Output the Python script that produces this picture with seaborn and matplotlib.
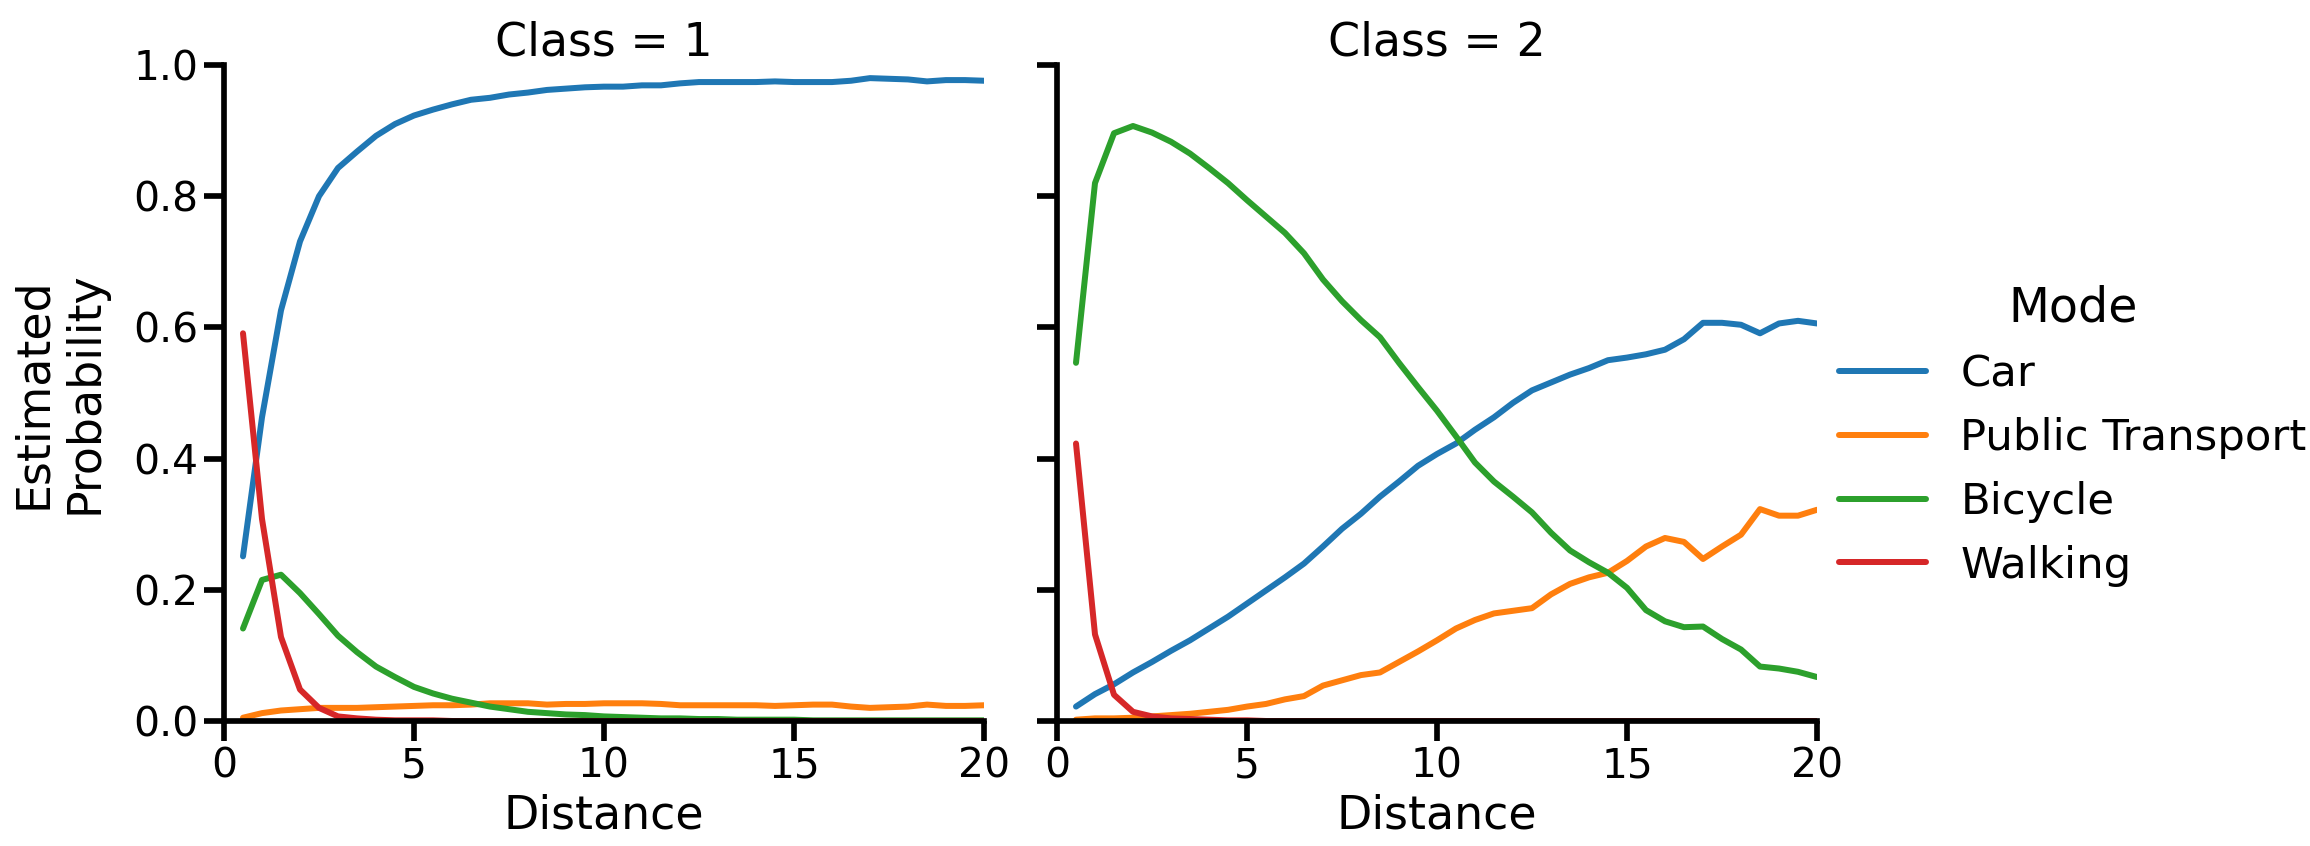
import numpy as np
import pandas as pd
import matplotlib
matplotlib.use("Agg")
import matplotlib.pyplot as plt
import seaborn as sns

distance = [0.5 * i for i in range(1, 41)]

modes = ["Car", "Public Transport", "Bicycle", "Walking"]

c1_car = [0.251, 0.463, 0.626, 0.731, 0.800, 0.843, 0.868, 0.892, 0.910, 0.923,
          0.932, 0.940, 0.947, 0.950, 0.955, 0.958, 0.962, 0.964, 0.966, 0.967,
          0.967, 0.969, 0.969, 0.972, 0.974, 0.974, 0.974, 0.974, 0.975, 0.974,
          0.974, 0.974, 0.976, 0.980, 0.979, 0.978, 0.975, 0.977, 0.977, 0.976]
c1_pt = [0.005, 0.012, 0.016, 0.018, 0.020, 0.020, 0.020, 0.021, 0.022, 0.023,
         0.024, 0.024, 0.025, 0.027, 0.027, 0.027, 0.025, 0.026, 0.026, 0.027,
         0.027, 0.027, 0.026, 0.024, 0.024, 0.024, 0.024, 0.024, 0.023, 0.024,
         0.025, 0.025, 0.022, 0.020, 0.021, 0.022, 0.025, 0.023, 0.023, 0.024]
c1_bike = [0.141, 0.215, 0.223, 0.195, 0.163, 0.130, 0.105, 0.083, 0.067, 0.052,
           0.042, 0.034, 0.028, 0.022, 0.018, 0.014, 0.012, 0.010, 0.009, 0.007,
           0.006, 0.005, 0.004, 0.004, 0.003, 0.003, 0.002, 0.002, 0.002, 0.002,
           0.001, 0.001, 0.001, 0.001, 0.001, 0.001, 0.001, 0.001, 0.001, 0.001]
c1_walk = [0.591, 0.308, 0.128, 0.048, 0.020, 0.007, 0.004, 0.002, 0.001, 0.001,
           0.001, 0.000, 0.000, 0.000, 0.000, 0.000, 0.000, 0.000, 0.000, 0.000,
           0.000, 0.000, 0.000, 0.000, 0.000, 0.000, 0.000, 0.000, 0.000, 0.000,
           0.000, 0.000, 0.000, 0.000, 0.000, 0.000, 0.000, 0.000, 0.000, 0.000]

c2_car = [0.022, 0.041, 0.056, 0.074, 0.090, 0.107, 0.123, 0.141, 0.159, 0.179,
          0.199, 0.219, 0.240, 0.266, 0.293, 0.316, 0.342, 0.365, 0.389, 0.407,
          0.423, 0.444, 0.463, 0.485, 0.504, 0.516, 0.528, 0.538, 0.550, 0.554,
          0.559, 0.566, 0.582, 0.607, 0.607, 0.604, 0.591, 0.606, 0.610, 0.606]
c2_pt = [0.002, 0.004, 0.004, 0.005, 0.007, 0.009, 0.011, 0.014, 0.017, 0.022,
         0.026, 0.033, 0.038, 0.054, 0.062, 0.070, 0.074, 0.090, 0.106, 0.123,
         0.141, 0.154, 0.164, 0.168, 0.172, 0.193, 0.209, 0.219, 0.226, 0.244,
         0.266, 0.279, 0.273, 0.247, 0.266, 0.284, 0.323, 0.313, 0.313, 0.322]
c2_bike = [0.546, 0.820, 0.896, 0.907, 0.897, 0.883, 0.865, 0.843, 0.820, 0.794,
           0.769, 0.744, 0.713, 0.673, 0.640, 0.611, 0.585, 0.546, 0.509, 0.473,
           0.434, 0.394, 0.365, 0.342, 0.318, 0.287, 0.260, 0.242, 0.226, 0.203,
           0.169, 0.152, 0.143, 0.144, 0.125, 0.109, 0.083, 0.080, 0.075, 0.067]
c2_walk = [0.423, 0.132, 0.040, 0.014, 0.007, 0.004, 0.003, 0.002, 0.001, 0.001,
           0.000, 0.000, 0.000, 0.000, 0.000, 0.000, 0.000, 0.000, 0.000, 0.000,
           0.000, 0.000, 0.000, 0.000, 0.000, 0.000, 0.000, 0.000, 0.000, 0.000,
           0.000, 0.000, 0.000, 0.000, 0.000, 0.000, 0.000, 0.000, 0.000, 0.000]

rows = []
for cls, series in [(1, [c1_car, c1_pt, c1_bike, c1_walk]),
                    (2, [c2_car, c2_pt, c2_bike, c2_walk])]:
    for mode, vals in zip(modes, series):
        for d, v in zip(distance, vals):
            rows.append({"Class": cls, "Mode": mode, "Distance": d,
                         "Estimated\nProbability": v})
df = pd.DataFrame(rows)

sns.set_theme(style="ticks", context="poster")
plt.rcParams["font.family"] = ["DejaVu Sans"]
plt.rcParams.update({
    "text.color": "black",
    "axes.labelcolor": "black",
    "axes.edgecolor": "black",
    "xtick.color": "black",
    "ytick.color": "black",
    "axes.linewidth": 3.4,
    "xtick.major.width": 3.4,
    "ytick.major.width": 3.4,
    "xtick.major.size": 12,
    "ytick.major.size": 12,
})

DPI = 120
W, H = 2310, 846
fig = plt.figure(figsize=(W / DPI, H / DPI), dpi=DPI)

def rect(x0, x1, ytop, ybot):
    return [x0 / W, 1 - ybot / H, (x1 - x0) / W, (ybot - ytop) / H]

ax1 = fig.add_axes(rect(224, 984, 65, 721))
ax2 = fig.add_axes(rect(1057, 1817, 65, 721), sharey=ax1)

LW = 3.6
palette = sns.color_palette("tab10", 4)
for ax, cls in [(ax1, 1), (ax2, 2)]:
    sns.lineplot(data=df[df["Class"] == cls], x="Distance",
                 y="Estimated\nProbability", hue="Mode", hue_order=modes,
                 palette=palette, ax=ax, linewidth=LW, legend=(cls == 1))
    ax.set_xlim(0, 20)
    ax.set_ylim(0, 1)
    ax.set_xticks([0, 5, 10, 15, 20])
    ax.set_yticks([0, 0.2, 0.4, 0.6, 0.8, 1.0])
    ax.set_title(f"Class = {cls}", fontsize=27.5, color="black")
    ax.set_xlabel("Distance", fontsize=27.5)
    ax.tick_params(labelsize=24.5, colors="black")
    sns.despine(ax=ax)

ax1.set_ylabel("Estimated\nProbability", fontsize=27.5, labelpad=15)
ax2.set_ylabel("")
plt.setp(ax2.get_yticklabels(), visible=False)

handles, labels = ax1.get_legend_handles_labels()
ax1.get_legend().remove()
for h in handles:
    h.set_linewidth(LW)
leg = fig.legend(handles, labels, title="Mode", loc="center left",
                 bbox_to_anchor=(1800 / W, 0.485), frameon=False,
                 fontsize=26, title_fontsize=28.5)
for t in leg.get_texts():
    t.set_color("black")
leg.get_title().set_color("black")

fig.savefig("out.png", dpi=DPI)
